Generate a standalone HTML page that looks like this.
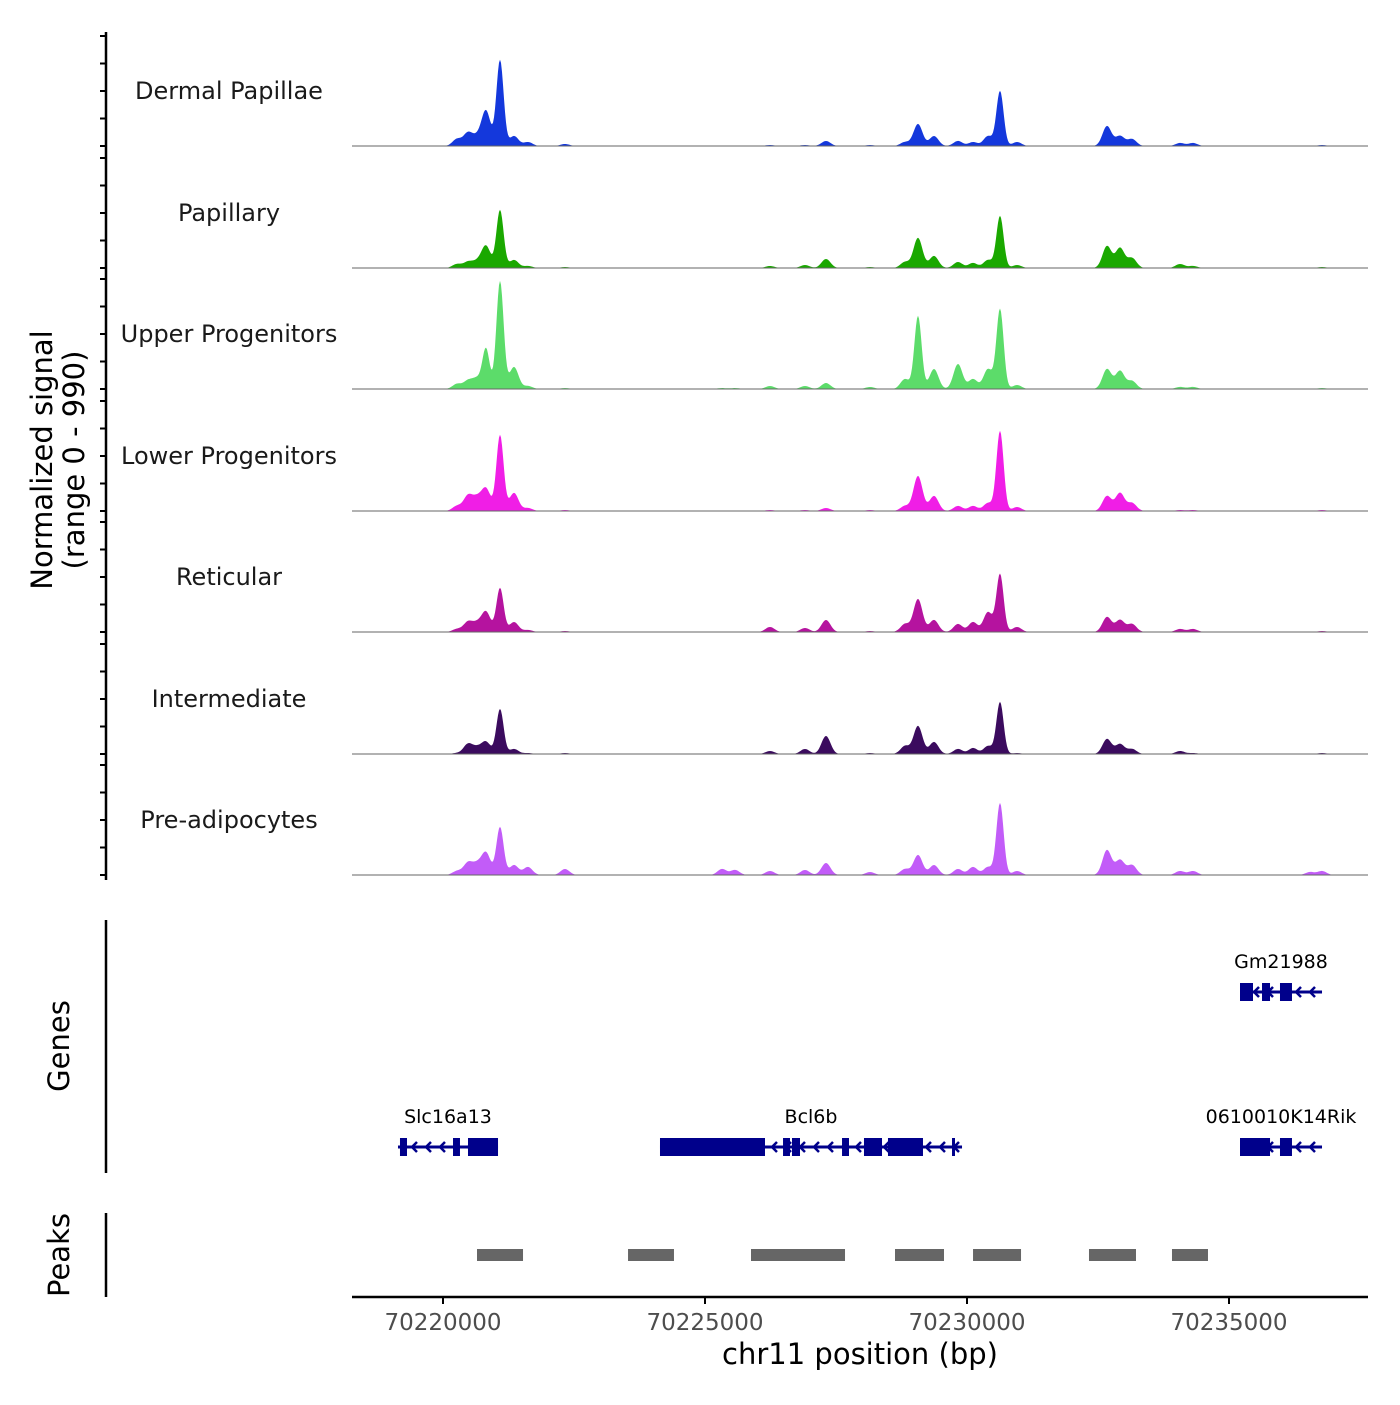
<!DOCTYPE html>
<html><head><meta charset="utf-8"><style>
body{margin:0;background:#fff}
svg text{font-family:"DejaVu Sans","Liberation Sans",sans-serif}
</style></head><body>
<svg id="chart" width="1400" height="1400" xmlns="http://www.w3.org/2000/svg">
<g id="tracks"></g>
<g>
<line x1="106" y1="32" x2="106" y2="880" stroke="#000" stroke-width="2.5"/>
<g id="yticks"></g>
<text transform="translate(52,460) rotate(-90)" text-anchor="middle" font-size="29">Normalized signal</text>
<text transform="translate(84,460) rotate(-90)" text-anchor="middle" font-size="29">(range 0 - 990)</text>
</g>
<g>
<line x1="106" y1="920" x2="106" y2="1173" stroke="#000" stroke-width="2.5"/>
<text transform="translate(69,1046) rotate(-90)" text-anchor="middle" font-size="29">Genes</text>
<g id="genes"></g>
</g>
<g>
<line x1="106" y1="1213" x2="106" y2="1297" stroke="#000" stroke-width="2.5"/>
<text transform="translate(69,1255) rotate(-90)" text-anchor="middle" font-size="29">Peaks</text>
<g id="peaks"></g>
</g>
<g>
<line x1="352" y1="1297" x2="1368" y2="1297" stroke="#000" stroke-width="2.5"/>
<g id="xticks"></g>
<text x="860" y="1364" text-anchor="middle" font-size="29">chr11 position (bp)</text>
</g>
</svg>
<script>
const NS="http://www.w3.org/2000/svg";
const trackNames=["Dermal Papillae","Papillary","Upper Progenitors","Lower Progenitors","Reticular","Intermediate","Pre-adipocytes"];
const trackColors=["#1438dc","#1aa800","#5cdc6a","#f01ee6","#b5139f","#3b0b5e","#c25cf8"];
// peak centers (bp)
const peakPos=[70220267,70220477,70220649,70220821,70221088,70221355,70221622,70222328,70225324,70225573,70226240,70226908,70227309,70228149,70228817,70229065,70229370,70229828,70230115,70230401,70230630,70230954,70232672,70232920,70233149,70234065,70234313,70236546,70236775];
// per-track signal heights (0-990) at each peak
const sig0=[58,108,67,291,715,83,33,17,0,0,8,8,42,8,33,183,83,42,33,83,457,33,166,83,58,25,25,0,8];
const sig1=[33,50,50,183,482,67,17,8,0,0,17,25,75,8,50,250,100,50,42,67,432,25,183,166,83,33,17,0,8];
const sig2=[42,67,83,333,898,183,25,8,8,8,25,25,50,17,83,607,166,208,83,166,665,33,166,150,67,17,17,0,8];
const sig3=[42,125,100,183,632,150,25,8,0,0,8,8,25,8,42,291,125,42,42,67,665,33,125,150,67,8,8,0,8];
const sig4=[25,83,67,166,366,83,17,8,0,0,42,33,100,8,67,274,100,67,83,166,482,42,125,100,67,25,25,0,8];
const sig5=[8,83,50,100,374,42,8,8,0,0,25,42,150,8,67,233,100,42,50,67,432,8,125,83,42,25,8,0,8];
const sig6=[33,100,83,183,399,83,67,50,50,42,33,42,100,25,50,166,83,50,67,67,598,33,208,125,83,33,33,25,33];
const trackSignals=[sig0,sig1,sig2,sig3,sig4,sig5,sig6];
const geneNames=["Slc16a13","Bcl6b","Gm21988","0610010K14Rik"];
const geneStart=[70219141,70224141,70235210,70235210];
const geneEnd=[70221050,70229905,70236775,70236775];
const geneRow=[1,1,0,1];
const geneExons=[[[70219179,70219313],[70220191,70220324],[70220477,70221050]],
[[70224141,70226145],[70226489,70226622],[70226660,70226813],[70227615,70227748],[70228034,70228378],[70228492,70229160],[70229714,70229771]],
[[70235210,70235458],[70235630,70235783],[70235973,70236202]],
[[70235210,70235783],[70235973,70236202]]];
const peakStart=[70220649,70223531,70225878,70228626,70230115,70232328,70233912];
const peakEnd=[70221527,70224408,70227672,70229561,70231031,70233225,70234599];
const xTicks=[70220000,70225000,70230000,70235000];

const x=bp=>443+(bp-70220000)*262/5000;
const baselines=[146,268,389,511,632,754,875];
const yscale=v=>v*119/990;
function mk(tag,attrs,parent){const e=document.createElementNS(NS,tag);for(const k in attrs)e.setAttribute(k,attrs[k]);parent.appendChild(e);return e;}
const tracks=document.getElementById('tracks');
trackNames.forEach((nm,i)=>{
  const g=mk('g',{},tracks);
  
  
  const b=baselines[i];let d='M352,'+b;
  for(let px=352;px<=1368;px+=1){
    let v=0;trackSignals[i].forEach((s,j)=>{const c=x(peakPos[j]);const sd=s>300?3.6:4.5;v+=yscale(s)*Math.exp(-((px-c)**2)/(2*sd*sd));});
    d+=' L'+px+','+(b-Math.min(v,119)).toFixed(1);
  }
  d+=' L1368,'+b+' Z';
  const p=mk('path',{d:d,fill:trackColors[i]},g);
  
  
  const l=mk('line',{x1:352,x2:1368,y1:b,y2:b,stroke:'#666','stroke-width':1},g);
  
  
  const t=mk('text',{x:229,y:b-47,'text-anchor':'middle','font-size':24,fill:'#1a1a1a'},g);
  t.textContent=nm;
  
  
});
const yt=document.getElementById('yticks');
for(let i=0;i<7;i++){const b=baselines[i];for(let k=0;k<5;k++){const yy=b-k*27.5;if(yy<30)continue;const tl=mk('line',{x1:100,x2:106,y1:yy,y2:yy,stroke:'#000','stroke-width':2},yt);}}
const gg=document.getElementById('genes');
geneNames.forEach((nm,i)=>{
  const g=mk('g',{},gg);
  
  
  const yy=geneRow[i]?1147:992;
  mk('line',{x1:x(geneStart[i]),x2:x(geneEnd[i]),y1:yy,y2:yy,stroke:'#00008b','stroke-width':3},g);
  for(let a=x(geneStart[i])+14;a<x(geneEnd[i])-4;a+=14){mk('path',{d:`M${a+5},${yy-5} L${a},${yy} L${a+5},${yy+5}`,stroke:'#00008b','stroke-width':2.5,fill:'none'},g);}
  geneExons[i].forEach(e=>mk('rect',{x:x(e[0]),y:yy-9,width:x(e[1])-x(e[0]),height:18,fill:'#00008b'},g));
  const t=mk('text',{x:(x(geneStart[i])+x(geneEnd[i]))/2,y:yy-24,'text-anchor':'middle','font-size':19,fill:'#000'},g);
  t.textContent=nm;
  
  
});
const pk=document.getElementById('peaks');
peakStart.forEach((s,i)=>{const r=mk('rect',{x:x(s),y:1249,width:x(peakEnd[i])-x(s),height:12,fill:'#666'},pk);

});
const xt=document.getElementById('xticks');
xTicks.forEach(v=>{mk('line',{x1:x(v),x2:x(v),y1:1297,y2:1304,stroke:'#000','stroke-width':2},xt);
const t=mk('text',{x:x(v),y:1330,'text-anchor':'middle','font-size':23,fill:'#4d4d4d'},xt);t.textContent=v;

});
</script>
</body></html>
